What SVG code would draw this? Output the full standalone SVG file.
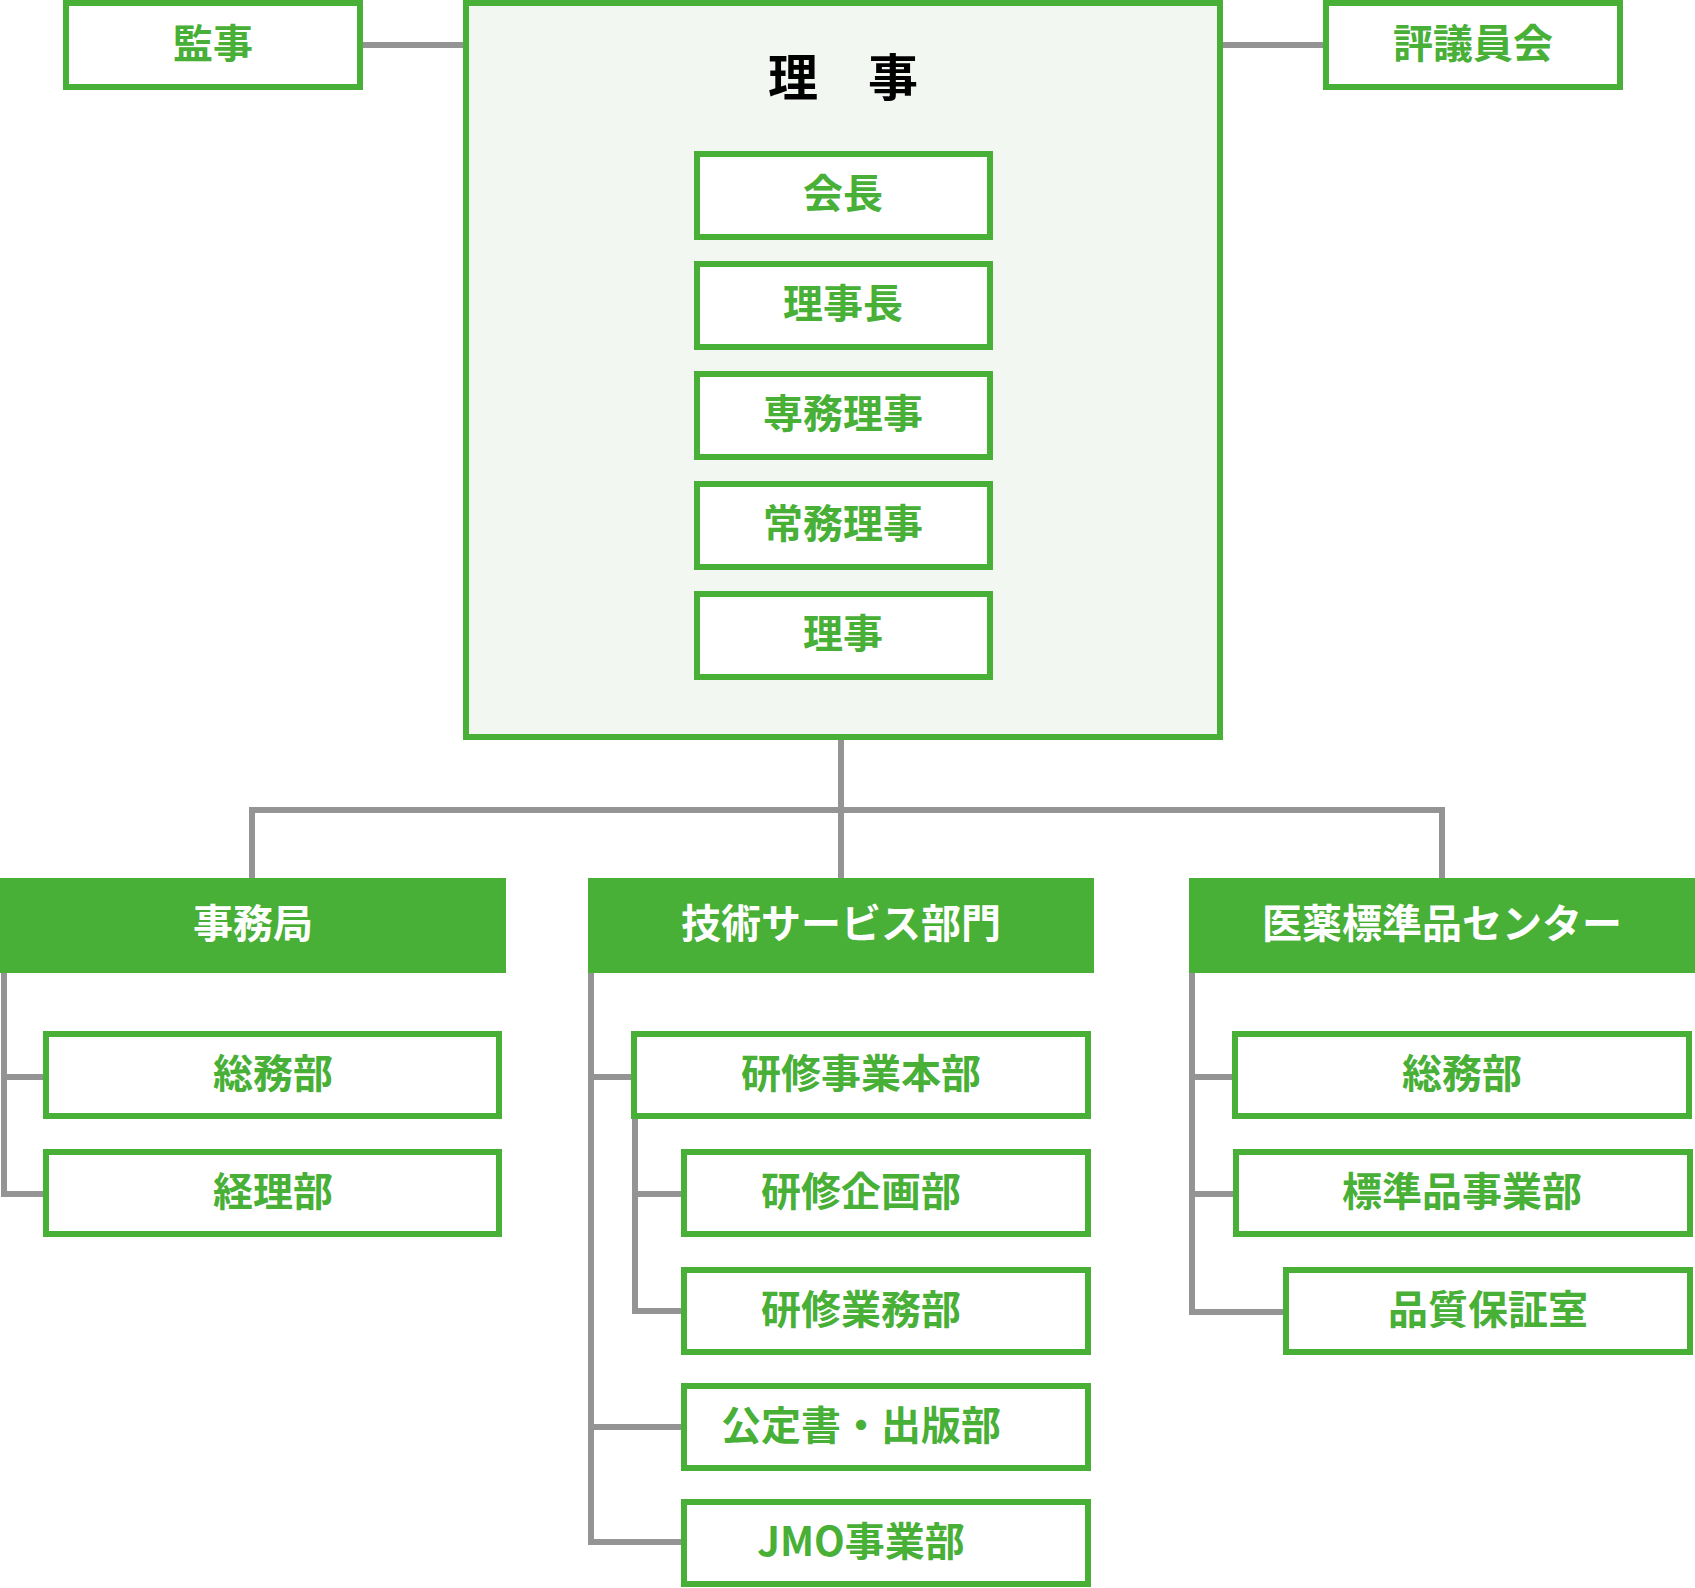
<svg xmlns="http://www.w3.org/2000/svg" width="1695" height="1588" viewBox="0 0 1695 1588">
<style>
.box{fill:#ffffff;stroke:#48af37;stroke-width:6}
.board{fill:#f2f7f1;stroke:#48af37;stroke-width:6}
.head{fill:#48af37}
.t{font-family:"Noto Sans CJK JP","Noto Sans",sans-serif;font-weight:700;font-size:40px;fill:#48af37;text-anchor:middle;dominant-baseline:central}
.tw{fill:#ffffff}
.tb{fill:#000000;font-size:50px}
.ln{stroke:#949494;stroke-width:6;fill:none}
</style>
<g id="connectors">
<line class="ln" x1="363" y1="45" x2="463" y2="45"/>
<line class="ln" x1="1223" y1="45" x2="1323" y2="45"/>
<line class="ln" x1="841" y1="240" x2="841" y2="591"/>
<line class="ln" x1="841" y1="740" x2="841" y2="878"/>
<polyline class="ln" points="252,878 252,810 1442,810 1442,878"/>
<polyline class="ln" points="4,972 4,1194 43,1194"/>
<line class="ln" x1="4" y1="1077" x2="43" y2="1077"/>
<polyline class="ln" points="591,972 591,1542 681,1542"/>
<line class="ln" x1="591" y1="1077" x2="631" y2="1077"/>
<line class="ln" x1="591" y1="1427" x2="681" y2="1427"/>
<polyline class="ln" points="635,1119 635,1311 681,1311"/>
<line class="ln" x1="635" y1="1194" x2="681" y2="1194"/>
<polyline class="ln" points="1192,972 1192,1312 1283,1312"/>
<line class="ln" x1="1192" y1="1077" x2="1232" y2="1077"/>
<line class="ln" x1="1192" y1="1194" x2="1233" y2="1194"/>
</g>
<g id="kanji">
<rect class="box" x="66" y="3" width="294" height="84"/>
<text class="t" x="213" y="41">監事</text>
</g>
<g id="hyogiinkai">
<rect class="box" x="1326" y="3" width="294" height="84"/>
<text class="t" x="1473" y="41">評議員会</text>
</g>
<g id="riji-board">
<rect class="board" x="466" y="3" width="754" height="734"/>
<text class="t tb" x="843" y="74">理　事</text>
</g>
<g id="kaicho">
<rect class="box" x="697" y="154" width="293" height="83"/>
<text class="t" x="843" y="191">会長</text>
</g>
<g id="rijicho">
<rect class="box" x="697" y="264" width="293" height="83"/>
<text class="t" x="843" y="301">理事長</text>
</g>
<g id="senmu">
<rect class="box" x="697" y="374" width="293" height="83"/>
<text class="t" x="843" y="411">専務理事</text>
</g>
<g id="jomu">
<rect class="box" x="697" y="484" width="293" height="83"/>
<text class="t" x="843" y="521">常務理事</text>
</g>
<g id="riji">
<rect class="box" x="697" y="594" width="293" height="83"/>
<text class="t" x="843" y="631">理事</text>
</g>
<g id="jimukyoku">
<rect class="head" x="0" y="878" width="506" height="95"/>
<text class="t tw" x="253" y="921">事務局</text>
</g>
<g id="gijutsu">
<rect class="head" x="588" y="878" width="506" height="95"/>
<text class="t tw" x="841" y="921">技術サービス部門</text>
</g>
<g id="center">
<rect class="head" x="1189" y="878" width="506" height="95"/>
<text class="t tw" x="1442" y="921">医薬標準品センター</text>
</g>
<g id="somu1">
<rect class="box" x="46" y="1034" width="453" height="82"/>
<text class="t" x="273" y="1071">総務部</text>
</g>
<g id="keiri">
<rect class="box" x="46" y="1152" width="453" height="82"/>
<text class="t" x="273" y="1189">経理部</text>
</g>
<g id="kenshu-honbu">
<rect class="box" x="634" y="1034" width="454" height="82"/>
<text class="t" x="861" y="1071">研修事業本部</text>
</g>
<g id="kenshu-kikaku">
<rect class="box" x="684" y="1152" width="404" height="82"/>
<text class="t" x="861" y="1189">研修企画部</text>
</g>
<g id="kenshu-gyomu">
<rect class="box" x="684" y="1270" width="404" height="82"/>
<text class="t" x="861" y="1307">研修業務部</text>
</g>
<g id="koteisho">
<rect class="box" x="684" y="1386" width="404" height="82"/>
<text class="t" x="861" y="1423">公定書・出版部</text>
</g>
<g id="jmo">
<rect class="box" x="684" y="1502" width="404" height="82"/>
<text class="t" x="861" y="1539">JMO事業部</text>
</g>
<g id="somu2">
<rect class="box" x="1235" y="1034" width="454" height="82"/>
<text class="t" x="1462" y="1071">総務部</text>
</g>
<g id="hyojunhin">
<rect class="box" x="1236" y="1152" width="454" height="82"/>
<text class="t" x="1462" y="1189">標準品事業部</text>
</g>
<g id="hinshitsu">
<rect class="box" x="1286" y="1270" width="404" height="82"/>
<text class="t" x="1488" y="1307">品質保証室</text>
</g>
</svg>
